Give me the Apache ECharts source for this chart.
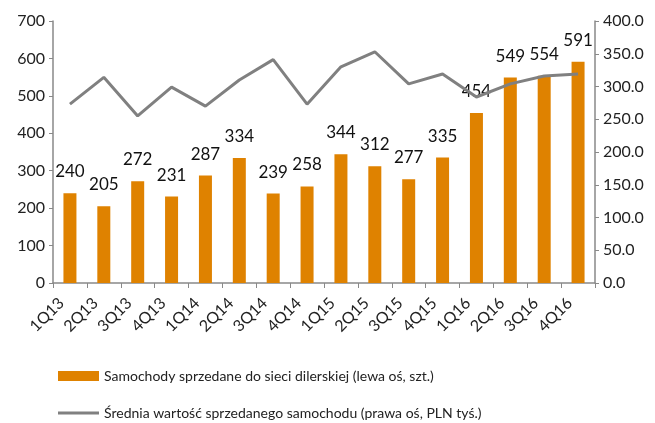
<!DOCTYPE html>
<html><head><meta charset="utf-8">
<script src="https://cdn.jsdelivr.net/npm/echarts@6/dist/echarts.min.js"></script>
<style>html,body{margin:0;padding:0;background:#fff}#c{width:655px;height:423px}</style>
</head><body><div id="c"></div>
<script>
const categories = ['1Q13','2Q13','3Q13','4Q13','1Q14','2Q14','3Q14','4Q14','1Q15','2Q15','3Q15','4Q15','1Q16','2Q16','3Q16','4Q16'];
const carsSold = [240,205,272,231,287,334,239,258,344,312,277,335,454,549,554,591];
const avgValue = [273,314,255,299,270,310,341,273,330,353,304,319,284,304,316,319];
const barName = 'Samochody sprzedane do sieci dilerskiej (lewa oś, szt.)';
const lineName = 'Średnia wartość sprzedanego samochodu (prawa oś, PLN tyś.)';
const FONT = 'Lato';
const chart = echarts.init(document.getElementById('c'));
chart.setOption({
  animation:false,
  textStyle:{fontFamily:FONT},
  grid:{left:53,right:60,top:21,bottom:140},
  legend:[
    {left:53,top:364,itemWidth:41,itemHeight:10,icon:'rect',
     textStyle:{fontFamily:FONT,fontSize:14,color:'#222'},data:[barName]},
    {left:53,top:401,itemWidth:41,itemHeight:3,icon:'rect',
     textStyle:{fontFamily:FONT,fontSize:14,color:'#222'},data:[lineName]}
  ],
  xAxis:{type:'category',data:categories,
    axisLine:{lineStyle:{color:'#898989',width:1.5}},
    axisTick:{show:true,length:5,lineStyle:{color:'#898989'}},
    axisLabel:{rotate:45,fontSize:16,color:'#222',margin:9,padding:[0,12,0,0],fontFamily:FONT}},
  yAxis:[
    {type:'value',min:0,max:700,interval:100,splitLine:{show:false},
     axisLine:{show:true,lineStyle:{color:'#898989',width:1.5}},
     axisTick:{show:true,length:4,lineStyle:{color:'#898989'}},
     axisLabel:{fontSize:16,color:'#222',margin:8,fontFamily:FONT}},
    {type:'value',min:0,max:400,interval:50,splitLine:{show:false},position:'right',
     axisLine:{show:true,lineStyle:{color:'#898989',width:1.5}},
     axisTick:{show:true,length:4,lineStyle:{color:'#898989'}},
     axisLabel:{fontSize:16,color:'#222',margin:8,fontFamily:FONT,formatter:v=>v.toFixed(1)}}
  ],
  series:[
    {name:barName,type:'bar',data:carsSold,barWidth:13,yAxisIndex:0,
     itemStyle:{color:'#DF8200'},
     label:{show:true,position:'top',distance:13,fontSize:17,color:'#111',fontFamily:FONT}},
    {name:lineName,type:'line',data:avgValue,yAxisIndex:1,symbol:'none',
     lineStyle:{color:'#808080',width:3},itemStyle:{color:'#808080'},z:3}
  ]
});
</script></body></html>
